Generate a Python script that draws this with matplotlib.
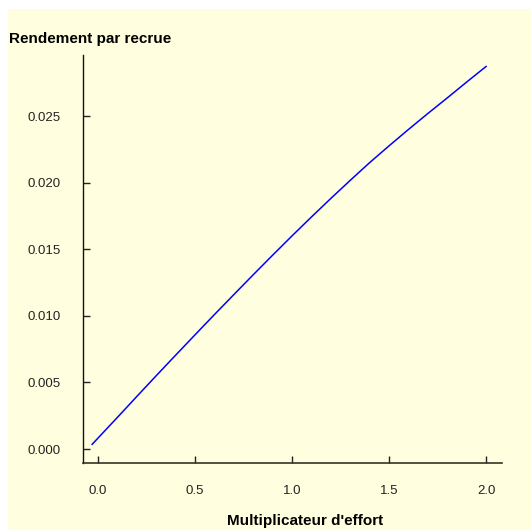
import matplotlib
matplotlib.use('Agg')
import matplotlib.pyplot as plt
from matplotlib.patches import Rectangle

BG = '#FFFFE0'

# effort multiplier vs yield per recruit
effort = [-0.03, 0.1, 0.2, 0.3, 0.4, 0.5, 0.6, 0.7, 0.8, 0.9, 1.0,
          1.1, 1.2, 1.3, 1.4, 1.5, 1.6, 1.7, 1.8, 1.9, 2.0]
rendement = [0.00035, 0.00237, 0.00394, 0.00550, 0.00704, 0.00857,
             0.01009, 0.01159, 0.01308, 0.01455, 0.01600, 0.01742,
             0.01881, 0.02017, 0.02150, 0.02276, 0.02399, 0.02519,
             0.02636, 0.02755, 0.02872]

xticks = [0.0, 0.5, 1.0, 1.5, 2.0]
yticks = [0.000, 0.005, 0.010, 0.015, 0.020, 0.025]

plt.rcParams['font.family'] = ['Liberation Sans', 'DejaVu Sans']

W, H = 531, 530
fig = plt.figure(figsize=(W / 100, H / 100), dpi=100, facecolor='white')
fig.patches.append(Rectangle((8 / W, 0), 1, 1 - 9 / H, transform=fig.transFigure,
                             facecolor=BG, edgecolor='none', zorder=-10))

ax = fig.add_axes([83 / W, 1 - 463 / H, (502 - 83) / W, (463 - 55) / H])
ax.set_facecolor(BG)
ax.plot(effort, rendement, color='#0000FF', lw=1.1)

ax.set_xlim(-0.077, 2.082)
ax.set_ylim(-0.00105, 0.02958)
ax.set_xticks(xticks)
ax.set_xticklabels(['%.1f' % t for t in xticks])
ax.set_yticks(yticks)
ax.set_yticklabels(['%.3f' % t for t in yticks])

for s in ['top', 'right']:
    ax.spines[s].set_visible(False)
ax.spines['left'].set_color('#111111')
ax.spines['bottom'].set_color('#333322')
ax.spines['left'].set_linewidth(1.0)
ax.spines['bottom'].set_linewidth(1.2)
ax.tick_params(direction='in', length=5, width=1, pad=16, labelsize=9.5,
               colors='#222222')

fig.text(9 / W, 1 - 39 / H, 'Rendement par recrue', fontsize=11,
         fontweight='bold', ha='left', va='center')
fig.text(305 / W, 1 - 521 / H, "Multiplicateur d'effort", fontsize=11,
         fontweight='bold', ha='center', va='center')

fig.savefig('out.png', dpi=100, facecolor='white')
